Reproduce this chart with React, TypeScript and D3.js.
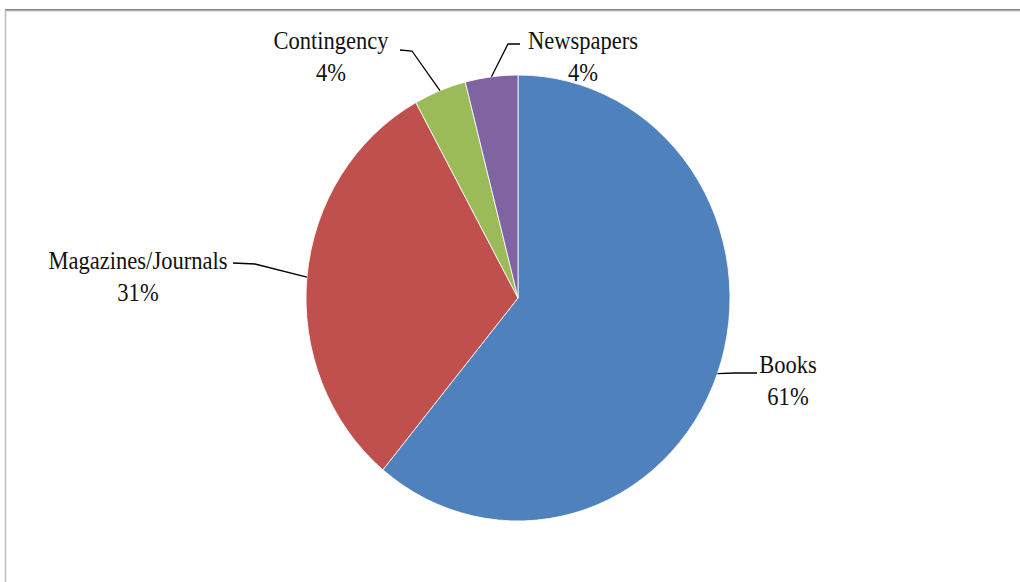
import React from "react";
import * as d3 from "d3";

const categories = ["Books", "Magazines/Journals", "Contingency", "Newspapers"];
const values = [61, 31, 4, 4];
const percentLabels = ["61%", "31%", "4%", "4%"];
const colors = ["#4F81BD", "#C0504D", "#9BBB59", "#8064A2"];

// label layout: text anchor position and leader elbow (layout only)
const labelLayout = [
  { x: 788, y: 373, elbow: [735, 373], end: [757, 373] },
  { x: 138, y: 269, elbow: [255, 264], end: [233, 263] },
  { x: 331, y: 49, elbow: [412, 51], end: [400, 50] },
  { x: 583, y: 49, elbow: [508, 44], end: [520, 44] },
];

export default function App() {
  const W = 1020, H = 582;
  const cx = 518, cy = 298, rx = 212, ry = 223;
  const pie = d3.pie<number>().sort(null).value((d) => d);
  const arcs = pie(values);
  const arc = d3.arc<d3.PieArcDatum<number>>().innerRadius(0).outerRadius(rx);
  const sy = ry / rx;
  const font = "'Liberation Serif', 'Times New Roman', serif";

  return (
    <svg width={W} height={H} style={{ position: "absolute", left: 0, top: 0, background: "#fff" }}>
      <rect x={0} y={0} width={W} height={H} fill="#fff" />
      <line x1={5} y1={10} x2={W} y2={10} stroke="#888" strokeWidth={2} />
      <line x1={5} y1={11} x2={W} y2={11} stroke="#ccc" strokeWidth={1} />
      <line x1={5.5} y1={10} x2={5.5} y2={H} stroke="#bbb" strokeWidth={1.5} />
      <g transform={`translate(${cx},${cy}) scale(1,${sy})`}>
        {arcs.map((a, i) => (
          <path key={categories[i]} d={arc(a) || ""} fill={colors[i]} stroke="#fff" strokeWidth={0.8} />
        ))}
      </g>
      {arcs.map((a, i) => {
        const mid = (a.startAngle + a.endAngle) / 2;
        const px = cx + rx * Math.sin(mid);
        const py = cy - ry * Math.cos(mid);
        const L = labelLayout[i];
        return (
          <g key={"lab" + i}>
            <polyline
              points={`${px},${py} ${L.elbow[0]},${L.elbow[1]} ${L.end[0]},${L.end[1]}`}
              fill="none"
              stroke="#000"
              strokeWidth={1.3}
            />
            <g transform={`translate(${L.x},${L.y}) scale(0.98,1.14)`}>
              <text x={0} y={0} textAnchor="middle" fontFamily={font} fontSize={23} fill="#111">
                {categories[i]}
              </text>
              <text x={0} y={28} textAnchor="middle" fontFamily={font} fontSize={23} fill="#111">
                {percentLabels[i]}
              </text>
            </g>
          </g>
        );
      })}
    </svg>
  );
}
